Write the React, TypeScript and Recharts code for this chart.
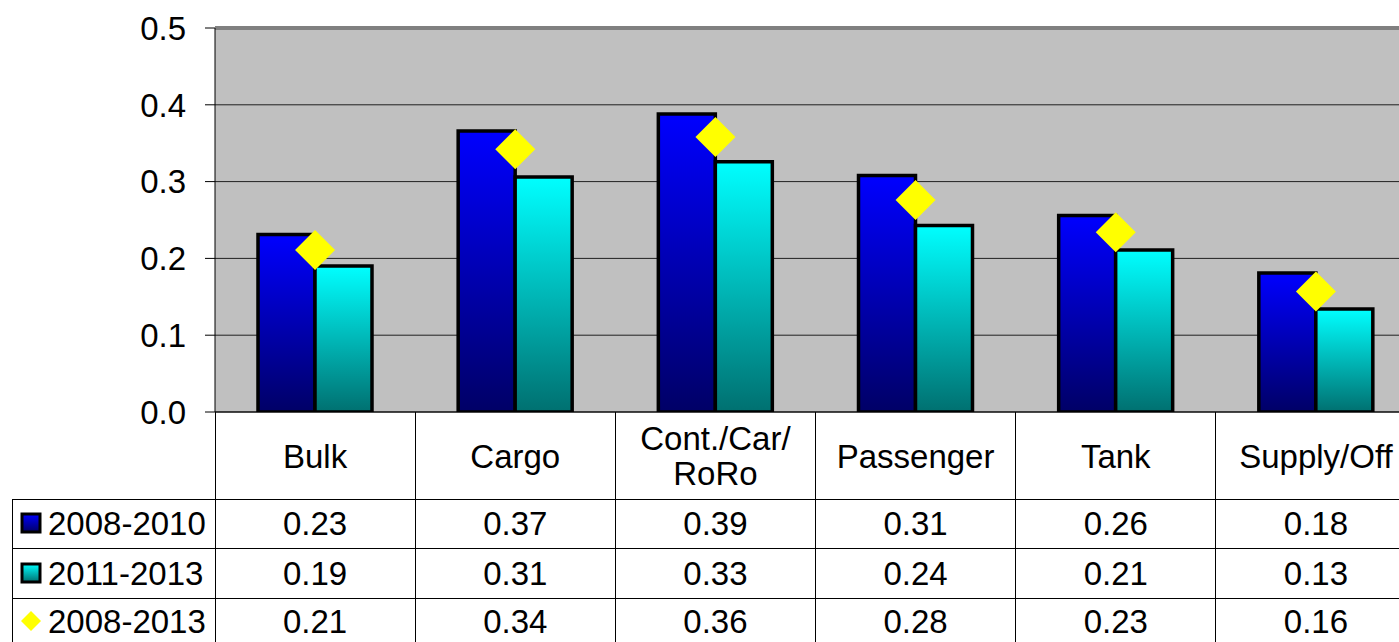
import React from "react";
import {
  ComposedChart,
  Bar,
  Scatter,
  XAxis,
  YAxis,
  CartesianGrid,
  ReferenceLine,
} from "recharts";

const categories = ["Bulk", "Cargo", "Cont./Car/\nRoRo", "Passenger", "Tank", "Supply/Off"];
const seriesNames = ["2008-2010", "2011-2013", "2008-2013"];
const values2008_2010 = [0.231, 0.366, 0.388, 0.308, 0.256, 0.181];
const values2011_2013 = [0.19, 0.306, 0.326, 0.243, 0.211, 0.134];
const values2008_2013 = [0.211, 0.342, 0.358, 0.276, 0.234, 0.157];
const yTicks = [0, 0.1, 0.2, 0.3, 0.4, 0.5];

const data = categories.map((name, i) => ({
  name,
  a: values2008_2010[i],
  b: values2011_2013[i],
  c: values2008_2013[i],
}));

const FONT = "'Liberation Sans', Arial, sans-serif";
const FS = 33;

const Diamond = (props: any) => {
  const { cx, cy } = props;
  if (cx == null || cy == null) return null;
  const r = 20;
  return (
    <polygon
      points={`${cx},${cy - r} ${cx + r},${cy} ${cx},${cy + r} ${cx - r},${cy}`}
      fill="#FFFF00"
    />
  );
};

const TableTick = (props: any) => {
  const { x, y, payload, index, width } = props;
  const n = categories.length;
  const bw = (width || 1201) / n;
  const top = y;
  const bottom = top + 300;
  const rowLines = [top + 87, top + 136, top + 186];
  const rowCenters = [top + 111, top + 161, top + 209];
  const seriesVals = [values2008_2010, values2011_2013, values2008_2013];
  const lines = String(payload.value).split("\n");
  const labelCenter = top + 44;
  const lineH = 35;
  const lineStyle = { stroke: "#000", strokeWidth: 1, shapeRendering: "crispEdges" as const };
  const idx = payload.index ?? index;
  return (
    <g fontFamily={FONT} fontSize={FS} fill="#000">
      {lines.map((ln, k) => (
        <text
          key={k}
          x={x}
          y={labelCenter + (k - (lines.length - 1) / 2) * lineH}
          textAnchor="middle"
          dominantBaseline="central"
          fill="#000"
        >
          {ln}
        </text>
      ))}
      {seriesVals.map((vals, r) => (
        <text
          key={"v" + r}
          x={x}
          y={rowCenters[r]}
          textAnchor="middle"
          dominantBaseline="central"
          fill="#000"
        >
          {vals[idx].toFixed(2)}
        </text>
      ))}
      <line x1={x + bw / 2} x2={x + bw / 2} y1={top} y2={bottom} {...lineStyle} />
      {idx === 0 && (
        <g>
          <line x1={x - bw / 2} x2={x - bw / 2} y1={top} y2={bottom} {...lineStyle} />
          <line x1={12} x2={12} y1={rowLines[0]} y2={bottom} {...lineStyle} />
          {rowLines.map((ly, r) => (
            <line key={"h" + r} x1={12} x2={1430} y1={ly} y2={ly} {...lineStyle} />
          ))}
          <rect x={22} y={rowCenters[0] - 9} width={18} height={18} fill="url(#gBlue)" stroke="#000" strokeWidth={3} />
          <rect x={22} y={rowCenters[1] - 9} width={18} height={18} fill="url(#gCyan)" stroke="#000" strokeWidth={3} />
          <polygon
            points={`31,${rowCenters[2] - 10} 41,${rowCenters[2]} 31,${rowCenters[2] + 10} 21,${rowCenters[2]}`}
            fill="#FFFF00"
          />
          {seriesNames.map((s, r) => (
            <text key={"l" + r} x={48} y={rowCenters[r]} dominantBaseline="central" fill="#000">
              {s}
            </text>
          ))}
        </g>
      )}
    </g>
  );
};

export default function App() {
  return (
    <div
      style={{
        position: "absolute",
        left: 0,
        top: 0,
        width: 1399,
        height: 642,
        overflow: "hidden",
        background: "#fff",
      }}
    >
      <ComposedChart
        width={1420}
        height={680}
        data={data}
        margin={{ top: 28, right: 4, bottom: 0, left: 0 }}
        barGap={0}
      >
        <defs>
          <linearGradient id="gBlue" x1="0" y1="0" x2="0" y2="1">
            <stop offset="0%" stopColor="#0000FF" />
            <stop offset="100%" stopColor="#000066" />
          </linearGradient>
          <linearGradient id="gCyan" x1="0" y1="0" x2="0" y2="1">
            <stop offset="0%" stopColor="#00FFFF" />
            <stop offset="100%" stopColor="#007070" />
          </linearGradient>
        </defs>
        <CartesianGrid vertical={false} fill="#C0C0C0" stroke="#202020" />
        <ReferenceLine y={0.5} stroke="#808080" strokeWidth={4} />
        <XAxis
          dataKey="name"
          height={268}
          interval={0}
          tickLine={false}
          tickSize={0}
          tickMargin={0}
          axisLine={{ stroke: "#000" }}
          tick={<TableTick />}
        />
        <YAxis
          width={215}
          domain={[0, 0.5]}
          ticks={yTicks}
          tickFormatter={(v: number) => v.toFixed(1)}
          tickSize={10}
          tickMargin={19}
          axisLine={{ stroke: "#000" }}
          tickLine={{ stroke: "#000" }}
          tick={{ fill: "#000", fontSize: FS, fontFamily: FONT }}
          allowDataOverflow
        />
        <Bar dataKey="a" name={seriesNames[0]} barSize={57} fill="url(#gBlue)" stroke="#000" strokeWidth={3.5} isAnimationActive={false} />
        <Bar dataKey="b" name={seriesNames[1]} barSize={57} fill="url(#gCyan)" stroke="#000" strokeWidth={3.5} isAnimationActive={false} />
        <Scatter dataKey="c" name={seriesNames[2]} fill="#FFFF00" shape={<Diamond />} isAnimationActive={false} />
      </ComposedChart>
    </div>
  );
}
